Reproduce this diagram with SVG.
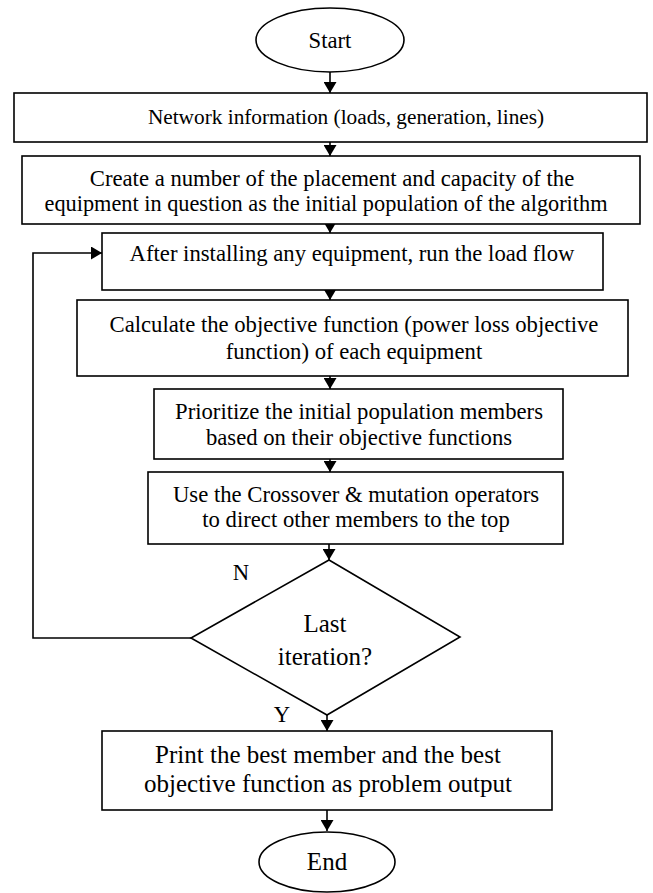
<svg xmlns="http://www.w3.org/2000/svg" width="653" height="893" viewBox="0 0 653 893">
<style>
.box{fill:#fff;stroke:#000;stroke-width:1.6}
.t{font-family:"Liberation Serif","Times New Roman",serif;font-size:22.7px;fill:#000;text-anchor:middle}
.tb{font-size:25px}
.ln{fill:none;stroke:#000;stroke-width:1.6}
</style>
<defs>
<marker id="ah" viewBox="0 0 11 13" refX="11" refY="6.5" markerWidth="11" markerHeight="13" markerUnits="userSpaceOnUse" orient="auto">
<path d="M0,0 L11,6.5 L0,13 Z" fill="#000"/>
</marker>
</defs>
<rect width="653" height="893" fill="#fff"/>
<g id="connectors">
<line class="ln" x1="330" y1="72" x2="330" y2="93" marker-end="url(#ah)"/>
<line class="ln" x1="330" y1="142" x2="330" y2="156" marker-end="url(#ah)"/>
<line class="ln" x1="330" y1="224" x2="330" y2="233" marker-end="url(#ah)"/>
<line class="ln" x1="330" y1="290" x2="330" y2="300" marker-end="url(#ah)"/>
<line class="ln" x1="330" y1="376" x2="330" y2="389" marker-end="url(#ah)"/>
<line class="ln" x1="330" y1="459" x2="330" y2="472" marker-end="url(#ah)"/>
<line class="ln" x1="329" y1="544" x2="329" y2="560" marker-end="url(#ah)"/>
<line class="ln" x1="327" y1="715" x2="327" y2="731" marker-end="url(#ah)"/>
<line class="ln" x1="327" y1="810" x2="327" y2="831" marker-end="url(#ah)"/>
<polyline class="ln" points="191,638 33,638 33,253 102,253" stroke-width="2" marker-end="url(#ah)"/>
</g>
<g id="start">
<ellipse class="box" cx="330" cy="40" rx="74" ry="32"/>
<text class="t" x="330" y="48">Start</text>
</g>
<g id="network">
<rect class="box" x="14" y="93" width="633" height="49"/>
<text class="t" x="346" y="124" style="font-size:21.3px">Network information (loads, generation, lines)</text>
</g>
<g id="create">
<rect class="box" x="22" y="156" width="618" height="68"/>
<text class="t" x="332" y="186">Create a number of the placement and capacity of the</text>
<text class="t" x="326" y="211" textLength="563" lengthAdjust="spacingAndGlyphs">equipment in question as the initial population of the algorithm</text>
</g>
<g id="loadflow">
<rect class="box" x="102" y="233" width="501" height="57"/>
<text class="t" x="352" y="261">After installing any equipment, run the load flow</text>
</g>
<g id="objective">
<rect class="box" x="77" y="300" width="551" height="76"/>
<text class="t" x="354" y="332">Calculate the objective function (power loss objective</text>
<text class="t" x="354" y="359">function) of each equipment</text>
</g>
<g id="prioritize">
<rect class="box" x="154" y="389" width="409" height="70"/>
<text class="t" x="359" y="419">Prioritize the initial population members</text>
<text class="t" x="359" y="445">based on their objective functions</text>
</g>
<g id="crossover">
<rect class="box" x="148" y="472" width="415" height="72"/>
<text class="t" x="356" y="502">Use the Crossover &amp; mutation operators</text>
<text class="t" x="356" y="527">to direct other members to the top</text>
</g>
<g id="decision">
<polygon class="box" points="329,560 460,637 327,715 191,638"/>
<text class="t tb" x="325" y="632">Last</text>
<text class="t tb" x="325" y="665">iteration?</text>
<text class="t" x="241" y="580">N</text>
<text class="t" x="282" y="722">Y</text>
</g>
<g id="print">
<rect class="box" x="102" y="731" width="450" height="79"/>
<text class="t tb" x="328" y="763">Print the best member and the best</text>
<text class="t tb" x="328" y="792">objective function as problem output</text>
</g>
<g id="end">
<ellipse class="box" cx="327" cy="862" rx="68" ry="30"/>
<text class="t tb" x="327" y="870">End</text>
</g>
</svg>
